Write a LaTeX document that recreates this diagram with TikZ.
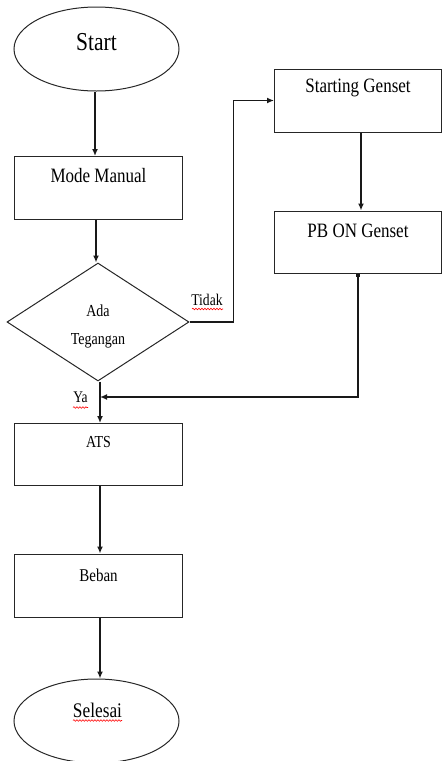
\documentclass[tikz,border=0pt]{standalone}
\usepackage{fontspec}
\setmainfont{Liberation Serif}
\usetikzlibrary{shapes.geometric,arrows.meta,calc,decorations.pathmorphing}
\newcommand{\tx}[2]{{\fontsize{#1}{#1}\selectfont\scalebox{1}[1.2]{#2}}}
\begin{document}
\begin{tikzpicture}[x=1pt,y=-1pt,
  box/.style={draw=black!85,line width=1pt,rectangle,minimum width=168pt,minimum height=63pt,inner sep=0pt},
  oval/.style={draw=black!85,line width=1pt,ellipse,minimum width=165pt,minimum height=84pt,inner sep=0pt},
  dia/.style={draw=black!85,line width=1pt,diamond,shape aspect=1.54,minimum width=182pt,minimum height=118pt,inner sep=0pt},
  txt/.style={inner sep=0pt,text=black},
  arr/.style={line width=1.8pt,draw=black!90,-{Latex[length=7pt,width=6pt]}},
  wavy/.style={red,line width=0.6pt,decorate,decoration={snake,amplitude=0.8pt,segment length=3pt}}]
\useasboundingbox (0,0) rectangle (442,761);
% shapes
\node[oval] (start) at (96.5,49) {};
\node[txt] (tstart) at (96.5,42) {\tx{21.5}{Start}};
\node[box] (mode) at (98.5,188) {};
\node[txt] (tmode) at (98.5,176) {\tx{17}{Mode Manual}};
\node[dia] (ada) at (98,322) {};
\node[txt] (tada) at (98,311) {\tx{14}{Ada}};
\node[txt] (tteg) at (98,341) {\tx{14}{Tegangan}};
\node[box,minimum width=167pt] (sg) at (358,100.5) {};
\node[txt] (tsg) at (358,88) {\tx{17}{Starting Genset}};
\node[box,minimum width=167pt,minimum height=62pt] (pb) at (358,242) {};
\node[txt] (tpb) at (358,231) {\tx{17}{PB ON Genset}};
\node[box,minimum height=62pt] (ats) at (98.5,454.5) {};
\node[txt] (tats) at (98.5,442) {\tx{14}{ATS}};
\node[box] (beban) at (98.5,585.5) {};
\node[txt] (tbeban) at (98.5,575) {\tx{15}{Beban}};
\node[oval] (selesai) at (96.5,721) {};
\node[txt] (tsel) at (97.5,710) {\tx{17.3}{Selesai}};
% labels
\node[txt] (ttidak) at (207,300) {\tx{13.6}{Tidak}};
\node[txt] (tya) at (80.5,397) {\tx{13.5}{Ya}};
\draw[wavy] (192,309) -- (223,309);
\draw[wavy] (73,407.5) -- (88,407.5);
\draw[wavy] (73,720.5) -- (122,720.5);
% connectors
\coordinate (join) at (100,397);
\draw[arr] (start.south -| 95,0) -- (mode.north -| 95,0);
\draw[arr] (mode.south -| 96,0) -- (ada.north -| 96,0);
\draw[arr] (ada.south -| 100,0) -- (ats.north -| 100,0);
\draw[arr] (ada.east) -- ++(44,0) |- (sg.west);
\draw[arr] (sg.south -| 361,0) -- (pb.north -| 361,0);
\draw[line width=1.8pt,draw=black!90,{Square[length=3.5pt,width=3.5pt]}-{Latex[length=7pt,width=6pt]}] (pb.south) |- (join);
\draw[arr] (ats.south -| 100,0) -- (beban.north -| 100,0);
\draw[arr] (beban.south -| 100,0) -- (selesai.north -| 100,0);
\end{tikzpicture}
\end{document}
